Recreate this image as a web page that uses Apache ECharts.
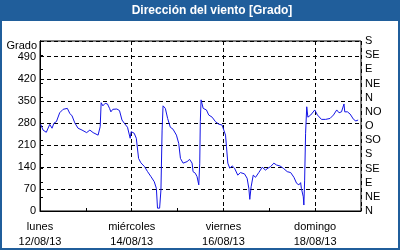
<!DOCTYPE html>
<html>
<head>
<meta charset="utf-8">
<script src="https://cdn.jsdelivr.net/npm/echarts@6/dist/echarts.min.js"></script>
<style>
html,body{margin:0;padding:0;background:#fff;}
#c{width:400px;height:250px;}
</style>
</head>
<body>
<div id="c"></div>
<script>
// Hours since Mon 12/08/13 00:00
var hours = [0.4,1.6,3.3,5.1,6.3,7.3,8.6,8.9,10.3,12.1,14.3,15.6,16.8,18.2,19.9,22.0,24.4,26.1,27.8,30.4,31.5,32.0,32.9,34.1,35.3,36.4,37.1,38.1,40.2,41.6,42.9,44.1,45.8,47.2,47.7,49.3,50.4,51.6,52.8,54.7,56.3,58.1,59.8,60.9,61.5,62.6,63.3,63.9,64.4,65.6,66.8,68.2,69.6,71.4,72.6,73.5,74.9,77.0,78.3,79.6,80.1,81.3,82.2,83.1,83.6,83.9,84.3,85.4,87.1,88.3,90.1,91.8,93.5,95.3,96.2,97.1,97.6,98.3,99.3,100.6,101.8,103.5,104.9,107.0,108.4,109.3,109.8,110.5,111.6,112.8,114.5,116.3,118.0,119.3,120.7,122.4,123.8,125.6,127.3,129.4,131.2,132.9,134.3,135.5,136.4,136.8,137.8,138.1,138.5,139.0,139.6,140.2,141.7,143.8,145.2,147.3,149.5,151.8,153.6,155.3,156.5,157.8,159.1,159.5,160.9,162.3,164.1,165.3,166.5];
var degrees = [275,257,250,275,263,279,284,289,312,323,326,310,302,280,263,257,249,257,249,241,268,344,334,342,340,326,315,323,324,319,289,279,266,231,252,247,231,167,153,141,125,109,93,72,9,9,67,257,334,326,294,266,260,241,215,167,152,157,164,152,125,120,109,83,152,284,353,326,321,305,298,284,276,273,257,241,204,152,136,143,136,114,122,118,104,72,37,77,114,107,122,139,130,136,141,152,146,143,136,125,122,107,88,83,90,72,45,19,98,247,331,298,305,321,305,291,291,294,305,321,312,315,340,315,315,308,291,286,289];
var dayLabels = {0:'lunes\n12/08/13', 48:'miércoles\n14/08/13', 96:'viernes\n16/08/13', 144:'domingo\n18/08/13'};
var leftTicks = [0,70,140,210,280,350,420,490];
var compass = ['N','NE','E','SE','S','SO','O','NO','N','NE','E','SE','S'];

var data = hours.map(function(h,i){return [h, degrees[i]];});
var font = 'Liberation Sans';
var chart = echarts.init(document.getElementById('c'), null, {renderer:'canvas'});
chart.setOption({
  animation:false,
  backgroundColor:'#fff',
  graphic:[
    {type:'rect', shape:{x:0,y:0,width:400,height:21}, style:{fill:'#205e9b'}, z:-1},
    {type:'rect', shape:{x:1,y:1,width:398,height:248}, style:{fill:null, stroke:'#205e9b', lineWidth:2}, z:-1},
    {type:'text', x:212, y:11, style:{text:'Dirección del viento [Grado]', fill:'#fff', font:'bold 12px "Liberation Sans"', textAlign:'center', textVerticalAlign:'middle'}},
    {type:'text', x:37, y:46, style:{text:'Grado', fill:'#000', font:'11px "Liberation Sans"', textAlign:'right', textVerticalAlign:'middle'}}
  ],
  grid:{left:40, right:39, top:41, bottom:39, show:true, borderColor:'#000', borderWidth:1, backgroundColor:'transparent'},
  xAxis:[{
    type:'value', min:0, max:168, interval:48, position:'bottom',
    axisLine:{show:true, onZero:false, lineStyle:{color:'#000', width:1}},
    axisTick:{show:false},
    axisLabel:{color:'#000', fontFamily:font, fontSize:11, lineHeight:15, margin:8,
      formatter:function(v){return dayLabels[v]||'';}},
    splitLine:{show:true, lineStyle:{color:'#000', type:[4,3], width:1}}
  },{
    type:'value', min:0, max:168, interval:24, position:'bottom',
    axisLine:{show:false}, axisLabel:{show:false}, splitLine:{show:false},
    axisTick:{show:true, inside:true, length:3, lineStyle:{color:'#000'}}
  }],
  yAxis:[{
    type:'value', min:0, max:540, interval:70, position:'left',
    axisLine:{show:true, lineStyle:{color:'#000', width:1}},
    axisTick:{show:false},
    axisLabel:{color:'#000', fontFamily:font, fontSize:11, margin:4,
      formatter:function(v){return leftTicks.indexOf(v)>=0 ? String(v) : '';}},
    splitLine:{show:true, lineStyle:{color:'#000', type:[4,3], width:1}}
  },{
    type:'value', min:0, max:540, interval:45, position:'right',
    axisLine:{show:true, lineStyle:{color:'#000', width:1}},
    axisTick:{show:true, inside:false, length:3, lineStyle:{color:'#000'}},
    axisLabel:{color:'#000', fontFamily:font, fontSize:11, margin:4,
      formatter:function(v){return compass[Math.round(v/45)];}},
    splitLine:{show:false}
  }],
  series:[{
    type:'line', data:data, xAxisIndex:0, yAxisIndex:0,
    showSymbol:false, symbol:'none',
    lineStyle:{color:'#1414e6', width:1}
  }]
});
</script>
</body>
</html>
